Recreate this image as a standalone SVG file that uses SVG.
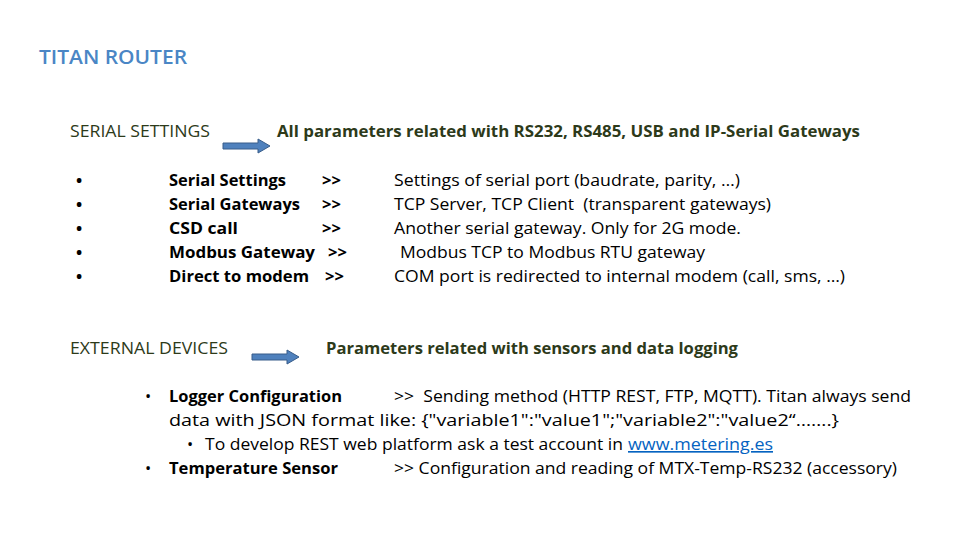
<svg xmlns="http://www.w3.org/2000/svg" width="960" height="540" viewBox="0 0 960 540">
<style>
text{font-family:"Open Sans","Liberation Sans",sans-serif;font-size:16.5px;fill:#000}
.b{font-weight:bold}
.t{fill:#4A86C5;font-size:20px;font-weight:600}
.h{fill:#2D3A1A}
.l{fill:#0563C1;text-decoration:underline}
.arr{fill:#4F81BD;stroke:#385D8A;stroke-width:1}
</style>
<rect width="960" height="540" fill="#fff"/>
<g id="title"><text class="t" x="39" y="64" textLength="148" lengthAdjust="spacingAndGlyphs">TITAN ROUTER</text></g>
<g id="serial">
<text class="h" x="70" y="137" textLength="140" lengthAdjust="spacingAndGlyphs">SERIAL SETTINGS</text>
<text class="h b" x="277" y="137" textLength="583" lengthAdjust="spacingAndGlyphs">All parameters related with RS232, RS485, USB and IP-Serial Gateways</text>
<g class="b">
<text x="76" y="186">•</text><text x="76" y="210">•</text><text x="76" y="234">•</text><text x="76" y="258">•</text><text x="76" y="282">•</text>
<text class="b" x="169" y="186" textLength="117" lengthAdjust="spacingAndGlyphs">Serial Settings</text><text class="b" x="322" y="186">&gt;&gt;</text>
<text class="b" x="169" y="210" textLength="131" lengthAdjust="spacingAndGlyphs">Serial Gateways</text><text class="b" x="322" y="210">&gt;&gt;</text>
<text class="b" x="169" y="234" textLength="69" lengthAdjust="spacingAndGlyphs">CSD call</text><text class="b" x="322" y="234">&gt;&gt;</text>
<text class="b" x="169" y="258" textLength="146" lengthAdjust="spacingAndGlyphs">Modbus Gateway</text><text class="b" x="328" y="258">&gt;&gt;</text>
<text class="b" x="169" y="282" textLength="140" lengthAdjust="spacingAndGlyphs">Direct to modem</text><text class="b" x="325" y="282">&gt;&gt;</text>
</g>
<text x="394" y="186" textLength="346" lengthAdjust="spacingAndGlyphs">Settings of serial port (baudrate, parity, …)</text>
<text x="394" y="210" textLength="377" lengthAdjust="spacingAndGlyphs" xml:space="preserve">TCP Server, TCP Client  (transparent gateways)</text>
<text x="394" y="234" textLength="347" lengthAdjust="spacingAndGlyphs">Another serial gateway. Only for 2G mode.</text>
<text x="400" y="258" textLength="305" lengthAdjust="spacingAndGlyphs">Modbus TCP to Modbus RTU gateway</text>
<text x="394" y="282" textLength="451" lengthAdjust="spacingAndGlyphs">COM port is redirected to internal modem (call, sms, …)</text>
</g>
<g id="external">
<text class="h" x="70" y="354" textLength="158" lengthAdjust="spacingAndGlyphs">EXTERNAL DEVICES</text>
<text class="h b" x="326" y="354" textLength="412" lengthAdjust="spacingAndGlyphs">Parameters related with sensors and data logging</text>
<text x="145" y="402">•</text>
<text class="b" x="169" y="402" textLength="173" lengthAdjust="spacingAndGlyphs">Logger Configuration</text>
<text x="394" y="402" textLength="517" lengthAdjust="spacingAndGlyphs" xml:space="preserve">&gt;&gt;  Sending method (HTTP REST, FTP, MQTT). Titan always send</text>
<text x="169" y="426" textLength="670" lengthAdjust="spacingAndGlyphs">data with JSON format like: {"variable1":"value1";"variable2":"value2“…….}</text>
<text x="187" y="450">•</text>
<text x="205" y="450" textLength="418" lengthAdjust="spacingAndGlyphs">To develop REST web platform ask a test account in</text>
<text class="l" x="628" y="450" textLength="145" lengthAdjust="spacingAndGlyphs">www.metering.es</text>
<text x="145" y="474">•</text>
<text class="b" x="169" y="474" textLength="169" lengthAdjust="spacingAndGlyphs">Temperature Sensor</text>
<text x="394" y="474" textLength="503" lengthAdjust="spacingAndGlyphs">&gt;&gt; Configuration and reading of MTX-Temp-RS232 (accessory)</text>
</g>
<g id="connectors">
<path class="arr" d="M223,143 H258 V139 L270,146 L258,153 V149 H223 Z"/>
<path class="arr" d="M252,354 H287 V350 L299,357 L287,364 V360 H252 Z"/>
</g>
</svg>
